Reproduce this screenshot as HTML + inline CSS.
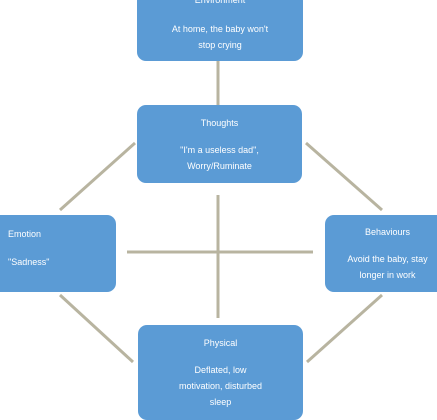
<!DOCTYPE html>
<html><head><style>
body{margin:0;width:437px;height:411px;background:#fff;overflow:hidden;position:relative;font-family:"Liberation Sans",sans-serif}
.b{position:absolute;background:#5b9bd5;border-radius:9px;color:#fff;font-size:9px;text-align:center;line-height:16px;box-sizing:border-box;padding-top:10px}
.b p{margin:0 0 11px 0}
svg{position:absolute;left:0;top:0}
</style></head><body>
<svg width="437" height="411">
<g stroke="#b8b4a0" stroke-width="3" fill="none">
<line x1="218" y1="61" x2="218" y2="105"/>
<line x1="218" y1="195" x2="218" y2="318"/>
<line x1="127" y1="252" x2="313" y2="252"/>
<line x1="135" y1="143" x2="60" y2="210"/>
<line x1="306" y1="143" x2="382" y2="210"/>
<line x1="60" y1="295" x2="133" y2="362"/>
<line x1="382" y1="295" x2="307" y2="362"/>
</g>
</svg>
<div class="b" style="left:137px;top:-8px;width:166px;height:69px;padding-top:0"><p style="margin-bottom:13px">Environment</p>At home, the baby won't<br>stop crying</div>
<div class="b" style="left:137px;top:105px;width:165px;height:78px"><p>Thoughts</p>"I'm a useless dad",<br>Worry/Ruminate</div>
<div class="b" style="left:-10px;top:215px;width:126px;height:77px;padding-top:11px;text-align:left;padding-left:18px"><p style="margin-bottom:12px">Emotion</p>"Sadness"</div>
<div class="b" style="left:325px;top:215px;width:125px;height:77px;padding-top:9px"><p>Behaviours</p>Avoid the baby, stay<br>longer in work</div>
<div class="b" style="left:138px;top:325px;width:165px;height:95px"><p>Physical</p>Deflated, low<br>motivation, disturbed<br>sleep</div>
</body></html>
